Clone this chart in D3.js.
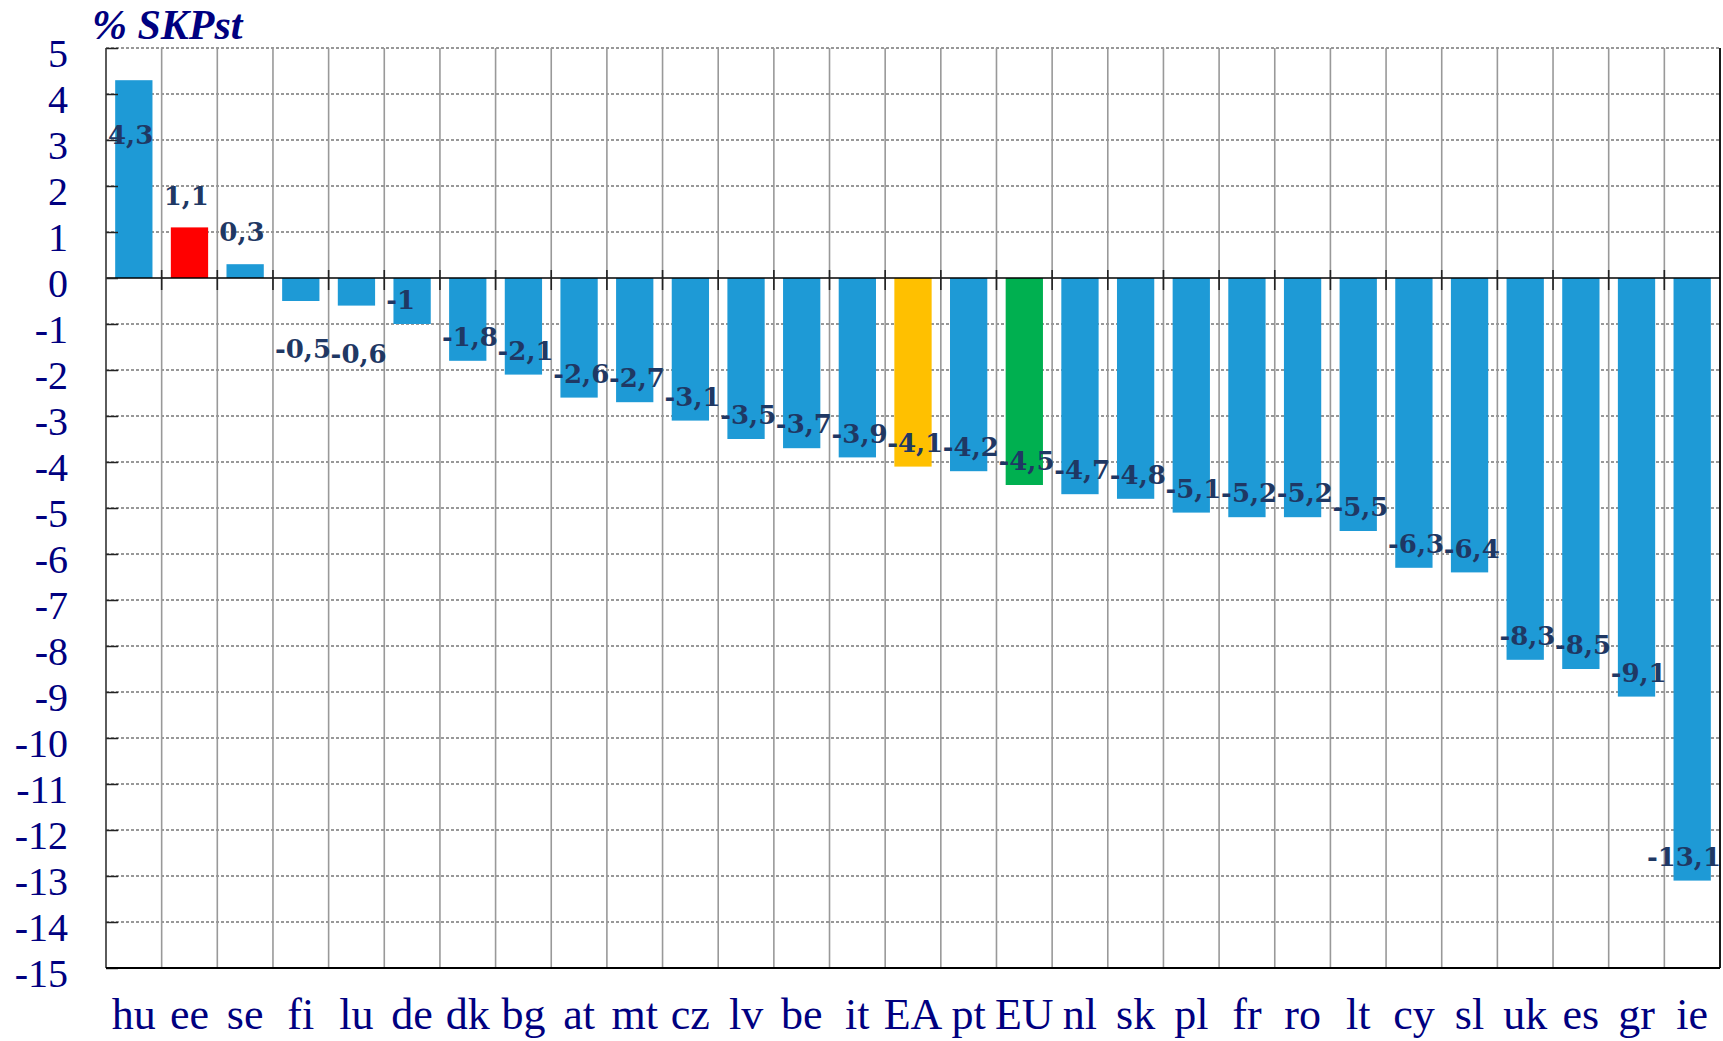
<!DOCTYPE html>
<html>
<head>
<meta charset="utf-8">
<script src="https://cdn.jsdelivr.net/npm/d3@7"></script>
<style>
  body { margin: 0; background: #fff; }
  svg { display: block; }
</style>
</head>
<body>
<div id="chart"></div>
<script>
// Categories and values (% SKPst)
const countries = ["hu","ee","se","fi","lu","de","dk","bg","at","mt","cz","lv","be","it","EA","pt","EU","nl","sk","pl","fr","ro","lt","cy","sl","uk","es","gr","ie"];
const values = [4.3, 1.1, 0.3, -0.5, -0.6, -1, -1.8, -2.1, -2.6, -2.7, -3.1, -3.5, -3.7, -3.9, -4.1, -4.2, -4.5, -4.7, -4.8, -5.1, -5.2, -5.2, -5.5, -6.3, -6.4, -8.3, -8.5, -9.1, -13.1];
const yTicks = d3.range(5, -16, -1);
const highlight = {ee: "#ff0000", EA: "#ffc000", EU: "#00b050"};

const data = countries.map((c, i) => ({c: c, v: values[i]}));

const W = 1723, H = 1041;
const margin = {top: 48, right: 3, bottom: 73, left: 106};

const svg = d3.select("#chart")
  .append("svg")
    .attr("width", W)
    .attr("height", H);

const x = d3.scaleBand()
  .domain(countries)
  .range([margin.left, W - margin.right])
  .padding(0);

const y = d3.scaleLinear()
  .domain([-15, 5])
  .range([H - margin.bottom, margin.top]);

const bw = x.bandwidth();
const barW = bw * 0.67;

// Horizontal dashed gridlines
svg.append("g")
  .selectAll("line")
  .data(yTicks.filter(t => t !== 0 && t !== -15))
  .enter().append("line")
    .attr("x1", margin.left)
    .attr("x2", W - margin.right)
    .attr("y1", d => y(d))
    .attr("y2", d => y(d))
    .attr("stroke", "#333")
    .attr("stroke-width", 1.2)
    .attr("stroke-dasharray", "3,2");

// Vertical gridlines at category boundaries
svg.append("g")
  .selectAll("line")
  .data(countries.slice(1))
  .enter().append("line")
    .attr("x1", d => x(d))
    .attr("x2", d => x(d))
    .attr("y1", y(5))
    .attr("y2", y(-15))
    .attr("stroke", "#999")
    .attr("stroke-width", 1.6);

// Bars
svg.append("g")
  .selectAll("rect")
  .data(data)
  .enter().append("rect")
    .attr("x", d => x(d.c) + (bw - barW) / 2)
    .attr("y", d => y(Math.max(0, d.v)))
    .attr("width", barW)
    .attr("height", d => Math.abs(y(d.v) - y(0)))
    .attr("fill", d => highlight[d.c] || "#1e9ad6");

// Zero line with cross ticks
svg.append("line")
  .attr("x1", margin.left)
  .attr("x2", W - margin.right)
  .attr("y1", y(0))
  .attr("y2", y(0))
  .attr("stroke", "#000")
  .attr("stroke-width", 1.6);

svg.append("g")
  .selectAll("line")
  .data(countries.slice(1))
  .enter().append("line")
    .attr("x1", d => x(d))
    .attr("x2", d => x(d))
    .attr("y1", y(0) - 8)
    .attr("y2", y(0) + 12)
    .attr("stroke", "#222")
    .attr("stroke-width", 1.6);

// Left axis (ticks pointing inside)
const yAxis = svg.append("g")
  .attr("transform", `translate(${margin.left},0)`)
  .call(d3.axisRight(y).tickValues(yTicks).tickSize(12).tickFormat(""));
yAxis.select(".domain").remove();
yAxis.selectAll("line").attr("stroke", "#222").attr("stroke-width", 1.5);

svg.append("line")
  .attr("x1", margin.left).attr("x2", margin.left)
  .attr("y1", y(5)).attr("y2", y(-15))
  .attr("stroke", "#333").attr("stroke-width", 1.6);

// Bottom and right border
svg.append("line")
  .attr("x1", margin.left).attr("x2", W - margin.right)
  .attr("y1", y(-15)).attr("y2", y(-15))
  .attr("stroke", "#000").attr("stroke-width", 1.8);
svg.append("line")
  .attr("x1", W - margin.right).attr("x2", W - margin.right)
  .attr("y1", y(5)).attr("y2", y(-15))
  .attr("stroke", "#000").attr("stroke-width", 1.8);

// Y tick labels
svg.append("g")
  .selectAll("text")
  .data(yTicks)
  .enter().append("text")
    .attr("x", 68)
    .attr("y", d => y(d) + 5)
    .attr("dy", "0.35em")
    .attr("text-anchor", "end")
    .attr("font-family", "Liberation Serif, serif")
    .attr("font-size", 40)
    .attr("fill", "#000080")
    .text(d => d);

// X labels
svg.append("g")
  .selectAll("text")
  .data(countries)
  .enter().append("text")
    .attr("x", d => x(d) + bw / 2)
    .attr("y", 1029)
    .attr("text-anchor", "middle")
    .attr("font-family", "Liberation Serif, serif")
    .attr("font-size", 44)
    .attr("fill", "#000080")
    .text(d => d);

// Data labels
function labelY(v) {
  if (v >= 2) return y(v) + 55;
  if (v > 0) return y(v) - 32;
  if (v > -1) return y(v) + 48;
  return y(v) - 24;
}

svg.append("g")
  .selectAll("text")
  .data(data)
  .enter().append("text")
    .attr("x", d => x(d.c) + 2)
    .attr("y", d => labelY(d.v))
    .attr("dy", "0.35em")
    .attr("font-family", "DejaVu Serif, serif")
    .attr("font-weight", "bold")
    .attr("font-size", 26)
    .attr("fill", "#1f3864")
    .text(d => String(d.v).replace(".", ","))
    .each(function() {
      // keep the label inside the page
      const t = d3.select(this);
      const len = this.getComputedTextLength();
      const x0 = +t.attr("x");
      if (x0 + len > W - 2) t.attr("x", W - 2 - len);
    });

// Title
svg.append("text")
  .attr("x", 92)
  .attr("y", 39)
  .attr("font-family", "Liberation Serif, serif")
  .attr("font-weight", "bold")
  .attr("font-style", "italic")
  .attr("font-size", 42)
  .attr("fill", "#000080")
  .text("% SKPst");
</script>
</body>
</html>
